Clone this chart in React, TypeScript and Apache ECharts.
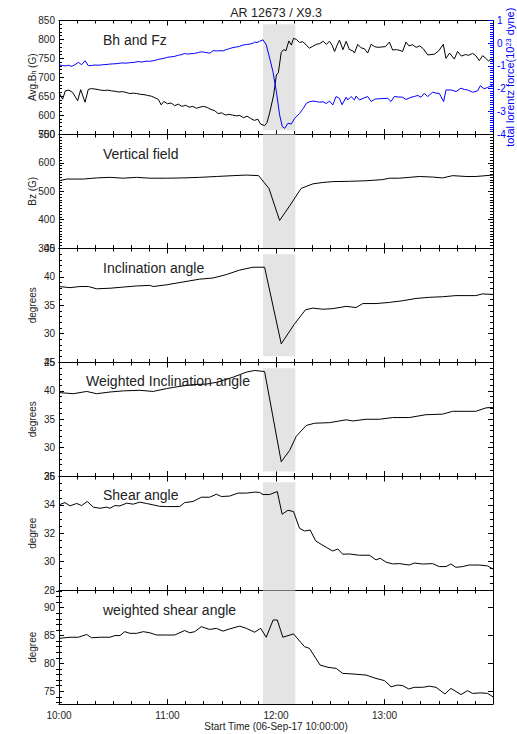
import React, { useEffect, useRef } from 'react';
import * as echarts from 'echarts';

// ---------- text ----------
const TITLE = 'AR 12673 / X9.3';
const xTickLabels = ['10:00', '11:00', '12:00', '13:00'];
const xAxisTitle = 'Start Time (06-Sep-17 10:00:00)';
const panelLabels = ['Bh and Fz', 'Vertical field', 'Inclination angle', 'Weighted Inclination angle', 'Shear angle', 'weighted shear angle'];

// flare window, minutes after 10:00
const flareStart = 112.8;
const flareEnd = 130.7;

// ---------- panel 1 : Avg Bh (G) ----------
const bhTime = [0, 2, 3.5, 5.5, 7.5, 10.3, 12, 14.4, 16.2, 18, 21, 23, 25, 27, 29, 31, 33, 35, 37, 39, 41, 43, 45, 47, 49, 51, 53, 55, 56.5, 58, 60, 62, 64, 66, 68, 70, 72, 74, 76, 78, 80, 82, 84, 86, 88, 90, 92, 94, 96, 98, 100, 102, 104, 106, 108, 110, 111.5, 113.7, 115, 116.5, 118.7, 120.2, 121.3, 122.9, 124.2, 125.5, 127.1, 128.5, 129.7, 131.2, 133, 134.9, 136.7, 138.5, 140.4, 142.3, 144.2, 146.1, 147.8, 149.6, 151, 152.4, 153.8, 155.1, 157, 158.8, 160.6, 162.5, 163.4, 165.2, 167, 169, 170.7, 172.6, 174.5, 176.3, 178.5, 180.5, 182.7, 184.5, 186.5, 188.5, 190, 191.9, 193.5, 195.5, 197.5, 199.5, 201.5, 203.9, 205.8, 207.6, 210, 212.5, 214, 216, 218.6, 220.4, 222.5, 224.8, 226.5, 228.7, 230.5, 232.4, 234.3, 236, 237.5, 239, 240];
const bhValue = [660, 642, 664, 666, 660, 638, 667, 634, 668, 670, 668, 666, 665, 666, 664, 663, 661, 662, 660, 657, 658, 657, 655, 654, 652, 650, 646, 641, 627, 636, 630, 632, 625, 629, 623, 626, 621, 623, 618, 621, 623, 620, 615, 612, 604, 606, 600, 602, 600, 598, 599, 593, 597, 591, 586, 589, 576, 572, 580, 606, 653, 706, 712, 766, 773, 770, 796, 785, 803, 800, 792, 794, 785, 777, 782, 787, 789, 795, 787, 795, 785, 768, 785, 798, 773, 795, 773, 770, 764, 787, 778, 775, 764, 787, 781, 779, 780, 781, 793, 772, 773, 771, 768, 793, 783, 786, 779, 783, 775, 759, 760, 761, 770, 787, 750, 764, 748, 768, 756, 760, 758, 763, 757, 744, 757, 750, 743, 748, 744];

// ---------- panel 1 : total Lorentz force Fz (1e23 dyne) ----------
const fzTime = [0, 1.8, 3.5, 5.3, 7, 8.8, 10.7, 12.5, 14.4, 16.2, 18, 20, 22, 24, 26, 28, 30, 32, 34.6, 37, 39, 41, 43.8, 46, 48, 50, 53, 55, 57, 58.5, 60, 62, 64, 66, 68, 69.5, 71, 73, 75, 77, 78.7, 80.5, 83.4, 85.2, 87, 89, 90.7, 92.5, 94.4, 96.2, 98, 99.9, 101.7, 103.6, 105.4, 107.3, 108.2, 109.5, 110.9, 112.8, 114.6, 116.5, 118.3, 120.2, 122, 123.5, 124.8, 126.6, 128.5, 130.3, 133.1, 135, 136.8, 138.6, 140.4, 142.3, 144.1, 146, 147.8, 149.6, 151.4, 153.2, 155.1, 156.5, 158.8, 159.7, 161.5, 163.4, 164.3, 166.1, 168.4, 170.7, 172.6, 174.5, 176.3, 178.5, 181.8, 183.6, 185.4, 187.7, 190, 191.9, 194.7, 196.5, 198.4, 200.2, 202, 203.9, 206.6, 208.5, 210.3, 212.7, 214, 216.8, 219.6, 222.3, 224.2, 226, 228.7, 231.5, 233, 235.1, 237, 239.8];
const fzValue = [-0.96, -0.98, -1.0, -0.97, -1.02, -0.95, -0.84, -0.95, -0.77, -0.99, -0.98, -0.96, -0.97, -0.95, -0.94, -0.92, -0.91, -0.9, -0.87, -0.88, -0.86, -0.85, -0.81, -0.83, -0.79, -0.8, -0.76, -0.71, -0.68, -0.66, -0.62, -0.6, -0.58, -0.53, -0.5, -0.45, -0.48, -0.46, -0.45, -0.41, -0.38, -0.4, -0.44, -0.33, -0.34, -0.33, -0.34, -0.28, -0.24, -0.19, -0.17, -0.14, -0.08, -0.06, -0.04, 0.0, 0.05, 0.03, 0.08, 0.15, -0.07, -0.66, -1.25, -2.13, -3.16, -3.68, -3.75, -3.53, -3.56, -3.31, -3.09, -2.88, -2.65, -2.58, -2.55, -2.57, -2.6, -2.58, -2.66, -2.55, -2.72, -2.35, -2.43, -2.71, -2.38, -2.5, -2.35, -2.5, -2.33, -2.5, -2.42, -2.35, -2.57, -2.47, -2.45, -2.44, -2.43, -2.57, -2.35, -2.37, -2.38, -2.48, -2.38, -2.35, -2.3, -2.38, -2.21, -2.35, -2.16, -2.2, -2.21, -2.57, -2.06, -2.06, -2.13, -1.98, -2.04, -2.06, -2.16, -2.1, -1.87, -2.01, -1.95, -1.85];

// ---------- panel 2 : Bz (G) ----------
const bzTime = [0, 4.2, 13.4, 20.8, 28.2, 35.5, 42.9, 50.2, 59.4, 68.6, 77.8, 87, 96.2, 103.6, 110.4, 116.1, 122, 127.5, 133.9, 140.4, 145.9, 151.4, 160.6, 169.8, 179, 182.7, 188.2, 193.7, 199.3, 206.6, 212.1, 217.7, 225, 230.5, 240];
const bzValue = [537, 543, 543, 547, 549, 546, 549, 546, 546, 547, 549, 552, 555, 557, 555, 510, 397, 448, 510, 526, 531, 534, 535, 537, 541, 546, 546, 549, 552, 550, 547, 555, 552, 552, 557];

// ---------- panel 3 : inclination angle (deg) ----------
const incTime = [0, 6.1, 11.6, 16.2, 20.8, 28.2, 35.5, 42.9, 50.2, 52.1, 59.4, 68.6, 77.8, 85.2, 92.5, 99.9, 107.3, 113.7, 122.9, 130, 136.3, 140.4, 145.9, 151.4, 158.8, 164.3, 168, 175.3, 182.7, 190.1, 197.4, 204.8, 212.1, 219.5, 225, 230.5, 234.2, 240];
const incValue = [38.3, 38.1, 38.3, 38.3, 37.9, 38.0, 38.2, 38.4, 38.5, 38.3, 38.6, 39.1, 39.6, 39.8, 40.4, 41.2, 41.7, 41.7, 28.2, 31.6, 34.2, 34.5, 34.3, 34.4, 34.8, 34.6, 35.3, 35.3, 35.5, 35.8, 36.2, 36.4, 36.5, 36.7, 36.7, 36.7, 37.0, 36.9];

// ---------- panel 4 : weighted inclination angle (deg) ----------
const wincTime = [0, 7.9, 15.3, 20.8, 28.2, 35.5, 44.7, 52.1, 59.4, 66.8, 74.1, 81.5, 87, 96.2, 103.6, 108.2, 113.7, 122.9, 127.5, 131.2, 136.7, 141.3, 149.6, 158.8, 162.5, 169.8, 177.2, 184.5, 193.7, 202.9, 212.1, 217.7, 225, 230.5, 236.1, 240];
const wincValue = [39.7, 39.5, 39.9, 39.5, 39.8, 40.0, 40.1, 39.9, 40.4, 40.8, 41.1, 41.2, 41.5, 42.4, 43.3, 43.6, 43.4, 27.5, 29.5, 32.0, 33.9, 34.3, 34.4, 34.9, 34.7, 35.0, 35.0, 35.3, 35.3, 35.8, 35.9, 36.4, 36.4, 36.4, 37.0, 37.1];

// ---------- panel 5 : shear angle (deg) ----------
const shearTime = [0, 3.3, 6.1, 9.8, 12.5, 15.6, 19, 22.6, 26.3, 28.2, 30.9, 33.7, 37.4, 41, 44.7, 48.4, 52.1, 55.7, 59.4, 66.8, 69.5, 74.1, 78.7, 83.3, 87, 89.8, 94.4, 99, 103.6, 108.2, 110.9, 112.8, 116.5, 120.7, 123.4, 126.6, 129.7, 133, 135.8, 138.9, 141.9, 145, 148.7, 151.4, 154.2, 156.9, 160.6, 166.1, 171.7, 175.3, 177.6, 180.9, 184.5, 188.2, 193.7, 196.5, 201.1, 206.6, 210.3, 214, 216.7, 219.5, 223.2, 226.9, 232.4, 237, 240];
const shearValue = [34.0, 34.16, 33.93, 34.1, 33.95, 34.24, 33.84, 33.76, 33.84, 33.76, 33.95, 33.93, 34.12, 34.05, 34.19, 34.1, 34.0, 33.9, 33.88, 33.88, 34.16, 34.24, 34.54, 34.54, 34.75, 34.59, 34.62, 34.83, 34.83, 34.9, 34.88, 34.73, 34.73, 34.94, 33.34, 33.62, 33.53, 32.35, 32.16, 32.23, 31.46, 31.22, 30.94, 30.75, 30.89, 30.52, 30.54, 30.45, 30.45, 30.12, 30.24, 29.96, 29.84, 29.86, 29.76, 29.9, 29.83, 29.86, 29.65, 29.65, 29.83, 29.6, 29.65, 29.76, 29.76, 29.7, 29.48];

// ---------- panel 6 : weighted shear angle (deg) ----------
const wshearTime = [0, 6.1, 10.7, 15.3, 18, 22.6, 28.2, 30.9, 33.7, 36.4, 39.2, 42.9, 46.6, 50.2, 53.9, 59.4, 64, 69.5, 72.3, 75.1, 78.7, 83.3, 87, 90.7, 94.4, 99.9, 103.6, 108.2, 111.5, 114.6, 118.4, 120.7, 123.8, 129.7, 133.9, 135.8, 138.5, 144.4, 148.7, 153.3, 156.9, 162.5, 169.8, 175.3, 180, 183.6, 187.3, 190.1, 193.4, 196.5, 201.1, 204.8, 208.5, 213.4, 216.7, 222.3, 225.9, 228.7, 233.3, 237, 240];
const wshearValue = [84.5, 84.7, 84.7, 85.2, 84.6, 84.7, 84.7, 85.0, 85.0, 85.7, 85.4, 85.4, 85.7, 85.5, 85.1, 85.1, 85.1, 85.9, 85.5, 85.7, 86.6, 86.1, 86.3, 85.8, 86.2, 86.7, 86.3, 85.6, 86.3, 84.7, 87.8, 87.8, 84.7, 85.3, 83.7, 83.0, 82.7, 79.7, 79.3, 79.1, 78.2, 78.1, 77.9, 77.3, 76.9, 75.8, 76.1, 76.0, 75.4, 75.7, 75.7, 75.9, 75.7, 74.5, 75.5, 74.4, 75.1, 74.6, 74.7, 74.6, 74.0];

// axis scales
const yNames = ['Avg.B{sub|h} (G)', 'Bz (G)', 'degrees', 'degrees', 'degree', 'degree'];
const yMin = [550, 300, 25, 25, 28, 72.7];
const yMax = [850, 700, 45, 45, 36, 93.1];
const yStep = [50, 100, 5, 5, 2, 5];
const yMinorSplit = [5, 10, 5, 5, 4, 5];
const bandLow = [560, 300, 26, 25.8, 28, 72.7];
const bandHigh = [840, 700, 44, 44, 35.6, 93.1];
const p6Major = [75, 80, 85, 90];
const p6Minor = [73, 74, 76, 77, 78, 79, 81, 82, 83, 84, 86, 87, 88, 89, 91, 92, 93];
const fzName = 'total lorentz force(10{sup|23} dyne)';

const FONT = 'Liberation Sans, Arial, Helvetica, sans-serif';
const INK = '#222';
const BLUE = '#0000ff';

function buildOption() {
  const left = 59;
  const right = 24;
  const top0 = 20.5;
  const step = 114;
  const h = 113.5;
  const grids: any[] = [];
  const xAxes: any[] = [];
  const yAxes: any[] = [];
  const series: any[] = [];
  const lineSpec = { lineStyle: { color: '#000', width: 1 } };

  const pairs = (t: number[], v: number[]) => t.map((x, i) => [x, v[i]]);
  const panelData = [
    pairs(bhTime, bhValue),
    pairs(bzTime, bzValue),
    pairs(incTime, incValue),
    pairs(wincTime, wincValue),
    pairs(shearTime, shearValue),
    pairs(wshearTime, wshearValue),
  ];

  for (let i = 0; i < 6; i++) {
    grids.push({
      left,
      right,
      top: top0 + i * step,
      height: h,
      show: false,
      containLabel: false,
      outerBoundsMode: 'none',
    });
    const isLast = i === 5;
    const xBase = {
      gridIndex: i,
      type: 'value',
      min: 0,
      max: 240,
      interval: 60,
      axisLine: { show: true, onZero: false, ...lineSpec },
      axisTick: { show: true, inside: true, length: 5, lineStyle: { color: '#000' } },
      minorTick: { show: true, splitNumber: 6, length: 3, lineStyle: { color: '#000' } },
      splitLine: { show: false },
      minorSplitLine: { show: false },
    };
    xAxes.push({
      ...xBase,
      position: 'bottom',
      axisLabel: {
        show: isLast,
        margin: 6,
        fontSize: 10,
        color: INK,
        fontFamily: FONT,
        formatter: (v: number) => (v < 240 && v % 60 === 0 ? xTickLabels[v / 60] : ''),
      },
      name: isLast ? xAxisTitle : '',
      nameLocation: 'middle',
      nameGap: 17,
      nameMoveOverlap: false,
      nameTextStyle: { fontSize: 10, color: INK, fontFamily: FONT },
    });
    xAxes.push({ ...xBase, position: 'top', axisLabel: { show: false } });

    const custom = i === 5;
    const yBase: any = {
      gridIndex: i,
      type: 'value',
      min: yMin[i],
      max: yMax[i],
      splitLine: { show: false },
      minorSplitLine: { show: false },
      axisLine: { show: true, onZero: false, ...lineSpec },
    };
    if (custom) {
      yBase.axisTick = { show: true, inside: true, length: 5, customValues: p6Major, lineStyle: { color: '#000' } };
      yBase.minorTick = { show: false };
    } else {
      yBase.interval = yStep[i];
      yBase.axisTick = { show: true, inside: true, length: 5, lineStyle: { color: '#000' } };
      yBase.minorTick = { show: true, splitNumber: yMinorSplit[i], length: 3, lineStyle: { color: '#000' } };
    }
    yAxes.push({
      ...yBase,
      position: 'left',
      axisLabel: {
        show: true,
        margin: 4,
        fontSize: 10,
        color: INK,
        fontFamily: FONT,
        ...(custom ? { customValues: p6Major } : {}),
      },
      name: yNames[i],
      nameLocation: 'middle',
      nameGap: 22,
      nameRotate: 90,
      nameMoveOverlap: false,
      nameTextStyle: {
        fontSize: 10,
        color: INK,
        fontFamily: FONT,
        rich: { sub: { fontSize: 7, fontFamily: FONT, color: INK, verticalAlign: 'bottom', lineHeight: 7 } },
      },
    });
    if (i === 0) {
      yAxes.push({
        gridIndex: 0,
        type: 'value',
        position: 'right',
        min: -4,
        max: 1,
        interval: 1,
        splitLine: { show: false },
        minorSplitLine: { show: false },
        axisLine: { show: true, onZero: false, lineStyle: { color: BLUE, width: 1 } },
        axisTick: { show: true, inside: true, length: 5, lineStyle: { color: BLUE } },
        minorTick: { show: true, splitNumber: 10, length: 3, lineStyle: { color: BLUE } },
        axisLabel: { show: true, margin: 4, fontSize: 10, color: BLUE, fontFamily: FONT },
        name: fzName,
        nameLocation: 'middle',
        nameGap: 11,
        nameRotate: 90,
        nameMoveOverlap: false,
        nameTextStyle: {
          fontSize: 11,
          color: BLUE,
          fontFamily: FONT,
          rich: { sup: { fontSize: 7.5, fontFamily: FONT, color: BLUE, verticalAlign: 'top', lineHeight: 7.5 } },
        },
      });
    } else {
      yAxes.push({ ...yBase, position: 'right', axisLabel: { show: false } });
    }

    series.push({
      type: 'line',
      xAxisIndex: 2 * i,
      yAxisIndex: 2 * i,
      data: panelData[i],
      showSymbol: false,
      symbol: 'none',
      lineStyle: { color: '#000', width: 1 },
      z: 3,
      markArea: {
        silent: true,
        itemStyle: { color: '#e4e4e4' },
        data: [[{ coord: [flareStart, bandLow[i]] }, { coord: [flareEnd, bandHigh[i]] }]],
      },
    });
  }

  // minor ticks for panel 6 (labels at 75..90, axis range not a multiple of 5)
  const minorAxis = (pos: string) => ({
    gridIndex: 5,
    type: 'value',
    position: pos,
    min: yMin[5],
    max: yMax[5],
    splitLine: { show: false },
    axisLine: { show: false },
    axisLabel: { show: false },
    axisTick: { show: true, inside: true, length: 3, customValues: p6Minor, lineStyle: { color: '#000' } },
    minorTick: { show: false },
  });
  yAxes.push(minorAxis('left'));
  yAxes.push(minorAxis('right'));

  series.push({
    type: 'line',
    xAxisIndex: 0,
    yAxisIndex: 1,
    data: pairs(fzTime, fzValue),
    showSymbol: false,
    symbol: 'none',
    lineStyle: { color: BLUE, width: 1 },
    z: 4,
  });

  const labelPos = [
    [103, 39.5],
    [103, 153.5],
    [103, 267.5],
    [86, 381],
    [103, 495],
    [103, 609.5],
  ];
  const graphic: any[] = panelLabels.map((txt, i) => ({
    type: 'text',
    x: labelPos[i][0],
    y: labelPos[i][1],
    z: 10,
    style: {
      text: txt,
      fontSize: 14,
      fontFamily: FONT,
      fill: INK,
      textVerticalAlign: 'middle',
      verticalAlign: 'middle',
    },
  }));
  graphic.push({
    type: 'text',
    x: 276,
    y: 12.5,
    style: {
      text: TITLE,
      fontSize: 12.5,
      fontFamily: FONT,
      fill: INK,
      align: 'center',
      verticalAlign: 'middle',
      textAlign: 'center',
      textVerticalAlign: 'middle',
    },
  });

  return {
    animation: false,
    backgroundColor: '#fff',
    textStyle: { fontFamily: FONT },
    grid: grids,
    xAxis: xAxes,
    yAxis: yAxes,
    series,
    graphic,
  };
}

export default function App() {
  const ref = useRef<HTMLDivElement>(null);
  useEffect(() => {
    if (!ref.current) return;
    const chart = echarts.init(ref.current, null, { renderer: 'svg' });
    chart.setOption(buildOption() as any);
    return () => chart.dispose();
  }, []);
  return (
    <div
      ref={ref}
      style={{ position: 'absolute', left: 0, top: 0, width: 517, height: 734, background: '#fff' }}
    />
  );
}
